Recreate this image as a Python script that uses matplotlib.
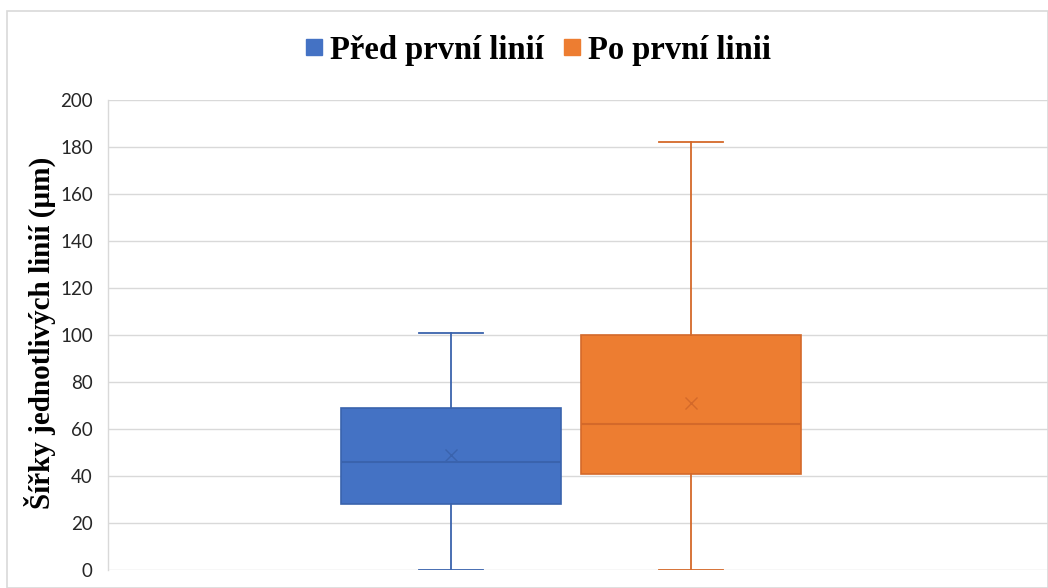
import matplotlib
matplotlib.use("Agg")
import matplotlib.pyplot as plt
from matplotlib.lines import Line2D
from matplotlib.patches import Rectangle

# Data
series_names = ["Před první linií", "Po první linii"]
whislo = [0, 0]
q1 = [28, 41]
med = [46, 62]
q3 = [69, 100]
whishi = [101, 182]
means = [49, 71]
colors = ["#4472C4", "#ED7D31"]
edge_colors = ["#3A63AD", "#D4692A"]
yticks = [0, 20, 40, 60, 80, 100, 120, 140, 160, 180, 200]

W, H = 1048, 588
fig = plt.figure(figsize=(W / 100, H / 100), dpi=100)
# chart border
fig.patches.append(Rectangle((7 / W, 0), (W - 7) / W, (H - 11) / H, transform=fig.transFigure,
                             fill=False, edgecolor="#D9D9D9", linewidth=1.2))

ax = fig.add_axes([108 / W, 18 / H, (W - 108) / W, (570 - 100) / H])

positions = [1, 2]
for i in range(2):
    stats = [dict(whislo=whislo[i], q1=q1[i], med=med[i], q3=q3[i], whishi=whishi[i],
                  mean=means[i], fliers=[], label=series_names[i])]
    ax.bxp(stats, positions=[positions[i]], widths=0.917, patch_artist=True, showmeans=True,
           showfliers=False, manage_ticks=False,
           boxprops=dict(facecolor=colors[i], edgecolor=edge_colors[i], linewidth=1.2),
           medianprops=dict(color=edge_colors[i], linewidth=1.5),
           whiskerprops=dict(color=edge_colors[i], linewidth=1.3),
           capprops=dict(color=edge_colors[i], linewidth=1.3),
           capwidths=0.27,
           meanprops=dict(marker="x", markeredgecolor=edge_colors[i], markersize=8,
                          markeredgewidth=1.0),
           zorder=3)

ax.set_xlim(-0.429, 3.4875)
ax.set_ylim(0, 200)
ax.set_yticks(yticks)
ax.set_yticklabels([str(t) for t in yticks], fontname="Lato", fontsize=13.5, color="#262626")
ax.set_xticks([])
ax.tick_params(axis="y", length=0, pad=11)
ax.grid(axis="y", color="#D9D9D9", linewidth=1.0, zorder=0)
ax.set_axisbelow(True)
for s in ["top", "right", "bottom"]:
    ax.spines[s].set_visible(False)
ax.spines["left"].set_color("#D9D9D9")
ax.spines["left"].set_linewidth(1.0)

ax.set_ylabel("Šířky jednotlivých linií (µm)", fontname="Liberation Serif", fontweight="bold",
              fontsize=21, color="black")
ax.yaxis.set_label_coords(-0.055, 0.505)

handles = [Line2D([], [], marker="s", linestyle="none", markersize=11,
                  markerfacecolor=colors[i], markeredgecolor=colors[i]) for i in range(2)]
fig.legend(handles, series_names, loc="center", bbox_to_anchor=(537 / W, 1 - 50 / H), ncol=2,
           frameon=False, handletextpad=0.15, columnspacing=0.5, handlelength=0.7,
           prop=dict(family="Liberation Serif", weight="bold", size=23.5))

fig.savefig("out.png", dpi=100, facecolor="white")
